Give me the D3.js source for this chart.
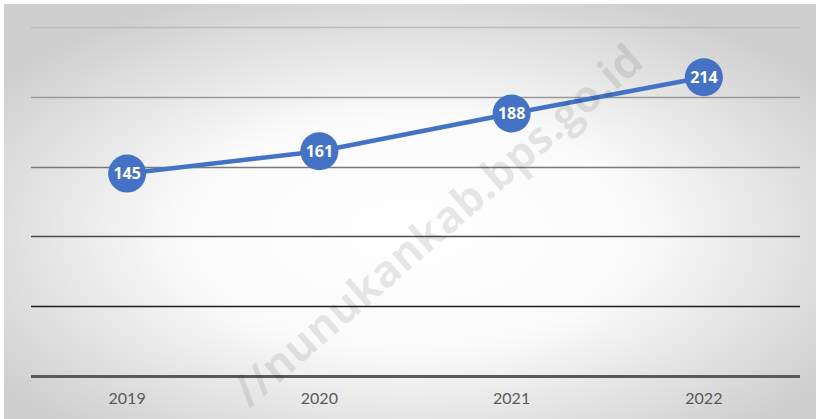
<!DOCTYPE html>
<html>
<head>
<meta charset="utf-8">
<script src="https://cdn.jsdelivr.net/npm/d3@7"></script>
<style>
  body { margin: 0; background: #fff; }
  svg { display: block; }
</style>
</head>
<body>
<svg width="820" height="419"></svg>
<script>
// data
var years = ["2019", "2020", "2021", "2022"];
var values = [145, 161, 188, 214];
var yTicks = [0, 50, 100, 150, 200, 250];

var svg = d3.select("svg"),
    width = +svg.attr("width"),
    height = +svg.attr("height");

var margin = {left: 31, right: 20, top: 27, bottom: 43};

// background gradient
var defs = svg.append("defs");
var grad = defs.append("radialGradient")
    .attr("id", "bg")
    .attr("cx", "50%").attr("cy", "55%").attr("r", "62%");
grad.append("stop").attr("offset", "0%").attr("stop-color", "#ffffff");
grad.append("stop").attr("offset", "45%").attr("stop-color", "#fbfbfb");
grad.append("stop").attr("offset", "100%").attr("stop-color", "#cfcfcf");

svg.append("rect")
    .attr("x", 4).attr("y", 4)
    .attr("width", width - 8).attr("height", height - 4)
    .attr("fill", "url(#bg)");

var x = d3.scaleBand()
    .domain(years)
    .range([margin.left, width - margin.right]);

var y = d3.scaleLinear()
    .domain([0, 250])
    .range([height - margin.bottom, margin.top]);

// gridlines
var gridColors = ["#5a5a5a", "#1e1e1e", "#4a4a4a", "#7a7a7a", "#9a9a9a", "#bcbcbc"];
svg.append("g")
  .selectAll("line")
  .data(yTicks)
  .enter().append("line")
    .attr("x1", margin.left)
    .attr("x2", width - margin.right)
    .attr("y1", function(d) { return Math.round(y(d)) + 0.5; })
    .attr("y2", function(d) { return Math.round(y(d)) + 0.5; })
    .attr("stroke", function(d, i) { return gridColors[i]; })
    .attr("stroke-width", function(d) { return d == 0 ? 3 : 1.3; });

// x axis labels
var xAxis = d3.axisBottom(x).tickSize(0).tickPadding(17);
var gx = svg.append("g")
    .attr("transform", "translate(0," + y(0) + ")")
    .call(xAxis);
gx.select(".domain").remove();
gx.selectAll("text")
    .attr("fill", "#595959")
    .style("font-family", "Lato, 'Open Sans', sans-serif")
    .style("font-size", "16px");

// line
var line = d3.line()
    .x(function(d, i) { return x(years[i]) + x.bandwidth() / 2; })
    .y(function(d) { return y(d); });

svg.append("path")
    .datum(values)
    .attr("fill", "none")
    .attr("stroke", "#4472C4")
    .attr("stroke-width", 4.5)
    .attr("d", line);

var pts = svg.append("g")
  .selectAll("g")
  .data(values)
  .enter().append("g")
    .attr("transform", function(d, i) {
      return "translate(" + (x(years[i]) + x.bandwidth() / 2) + "," + y(d) + ")";
    });

pts.append("circle")
    .attr("r", 19)
    .attr("fill", "#4472C4");

pts.append("text")
    .attr("text-anchor", "middle")
    .attr("dy", "0.36em")
    .attr("fill", "#fff")
    .style("font-family", "'Open Sans', sans-serif")
    .style("font-weight", "bold")
    .style("font-size", "16px")
    .text(function(d) { return d; });

// watermark
svg.append("text")
    .attr("transform", "translate(440,228) rotate(-41)")
    .attr("text-anchor", "middle")
    .attr("dominant-baseline", "middle")
    .attr("fill", "#000")
    .attr("fill-opacity", 0.09)
    .style("font-family", "'Open Sans', sans-serif")
    .style("font-weight", "bold")
    .style("font-size", "44px")
    .text("//nunukankab.bps.go.id");
</script>
</body>
</html>
